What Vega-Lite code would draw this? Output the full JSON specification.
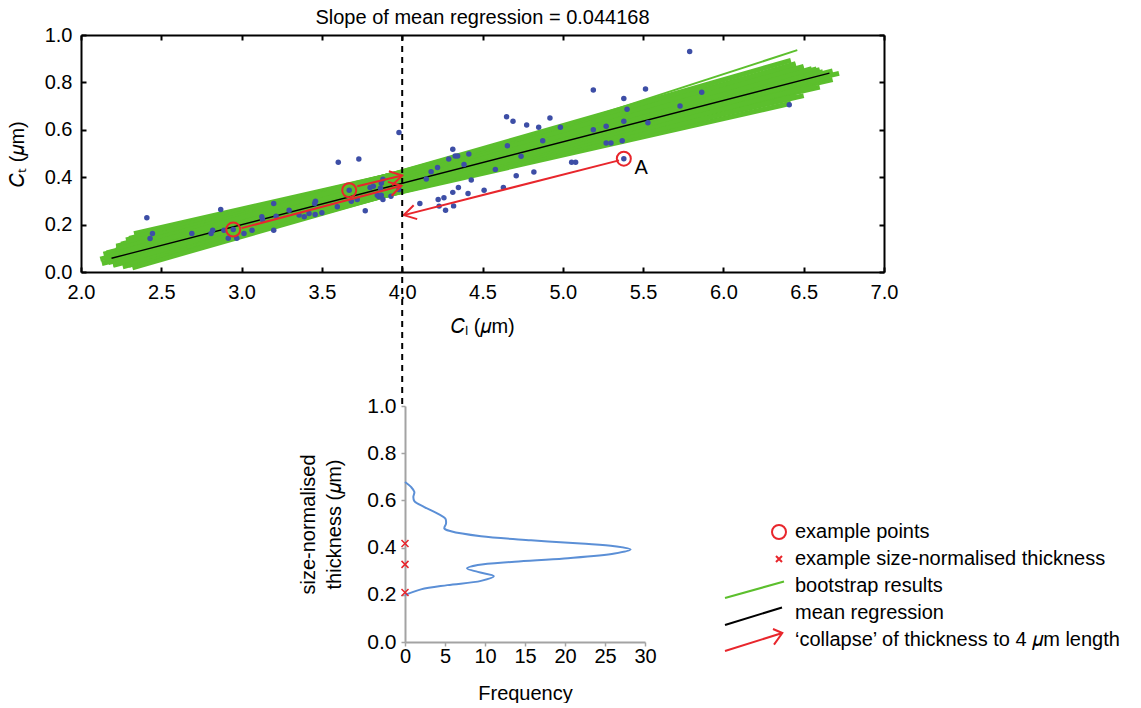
{
  "$schema": "https://vega.github.io/schema/vega-lite/v6.json",
  "padding": {"left": 7, "top": 8, "right": 0, "bottom": 0},
  "config": {
    "font": "Liberation Sans",
    "view": {"stroke": null},
    "axis": {"labelFontSize": 20, "titleFontSize": 20, "labelColor": "#000", "titleColor": "#000", "titleFontWeight": "normal", "grid": false, "labelFlush": false, "labelOverlap": false, "labelFont": "Liberation Sans", "titleFont": "Liberation Sans"},
    "title": {"fontSize": 20, "fontWeight": "normal", "color": "#000", "font": "Liberation Sans"},
    "legend": {"labelFontSize": 20, "labelColor": "#000", "labelFont": "Liberation Sans"}
  },
  "datasets": {
    "boot": [
      {"xs": 2.2, "ys": 0.062, "xe": 6.42, "ye": 0.712},
      {"xs": 2.18, "ys": 0.079, "xe": 6.5, "ye": 0.744},
      {"xs": 2.22, "ys": 0.105, "xe": 6.6, "ye": 0.780},
      {"xs": 2.28, "ys": 0.135, "xe": 6.68, "ye": 0.812},
      {"xs": 2.33, "ys": 0.162, "xe": 6.72, "ye": 0.838},
      {"xs": 2.17, "ys": 0.040, "xe": 6.45, "ye": 0.742},
      {"xs": 2.15, "ys": 0.057, "xe": 6.58, "ye": 0.784},
      {"xs": 2.14, "ys": 0.075, "xe": 6.66, "ye": 0.817},
      {"xs": 2.22, "ys": 0.109, "xe": 6.62, "ye": 0.830},
      {"xs": 2.3, "ys": 0.142, "xe": 6.6, "ye": 0.847},
      {"xs": 2.2, "ys": 0.028, "xe": 6.48, "ye": 0.773},
      {"xs": 2.13, "ys": 0.036, "xe": 6.63, "ye": 0.819},
      {"xs": 2.12, "ys": 0.054, "xe": 6.68, "ye": 0.848},
      {"xs": 2.16, "ys": 0.081, "xe": 6.6, "ye": 0.854},
      {"xs": 2.25, "ys": 0.117, "xe": 6.5, "ye": 0.856},
      {"xs": 2.26, "ys": 0.022, "xe": 6.52, "ye": 0.806},
      {"xs": 2.2, "ys": 0.031, "xe": 6.62, "ye": 0.845},
      {"xs": 2.15, "ys": 0.042, "xe": 6.58, "ye": 0.857},
      {"xs": 2.18, "ys": 0.068, "xe": 6.5, "ye": 0.862},
      {"xs": 2.22, "ys": 0.095, "xe": 6.45, "ye": 0.873},
      {"xs": 2.32, "ys": 0.018, "xe": 6.5, "ye": 0.828},
      {"xs": 2.28, "ys": 0.030, "xe": 6.55, "ye": 0.858},
      {"xs": 2.22, "ys": 0.038, "xe": 6.5, "ye": 0.868},
      {"xs": 2.2, "ys": 0.054, "xe": 6.45, "ye": 0.879},
      {"xs": 2.24, "ys": 0.082, "xe": 6.42, "ye": 0.893}
    ],
    "bootThin": [
      {"xs": 2.3, "ys": 0.022, "xe": 6.46, "ye": 0.936}
    ],
    "mean": [
      {"x": 2.19, "y": 0.058},
      {"x": 6.66, "y": 0.839}
    ],
    "pts": [
      {"x": 2.41, "y": 0.229}, {"x": 2.445, "y": 0.162}, {"x": 2.43, "y": 0.141}, {"x": 2.69, "y": 0.162},
      {"x": 2.82, "y": 0.176}, {"x": 2.81, "y": 0.162}, {"x": 2.87, "y": 0.264}, {"x": 2.89, "y": 0.176},
      {"x": 2.917, "y": 0.142}, {"x": 2.948, "y": 0.179}, {"x": 2.97, "y": 0.142}, {"x": 3.015, "y": 0.162},
      {"x": 3.065, "y": 0.176}, {"x": 3.126, "y": 0.233}, {"x": 3.13, "y": 0.222}, {"x": 3.2, "y": 0.289},
      {"x": 3.2, "y": 0.176}, {"x": 3.215, "y": 0.235}, {"x": 3.296, "y": 0.261}, {"x": 3.358, "y": 0.24},
      {"x": 3.39, "y": 0.233}, {"x": 3.42, "y": 0.247}, {"x": 3.458, "y": 0.243}, {"x": 3.46, "y": 0.299},
      {"x": 3.455, "y": 0.289}, {"x": 3.5, "y": 0.25}, {"x": 3.596, "y": 0.275}, {"x": 3.602, "y": 0.463},
      {"x": 3.73, "y": 0.477}, {"x": 3.67, "y": 0.345}, {"x": 3.683, "y": 0.299}, {"x": 3.72, "y": 0.306},
      {"x": 3.77, "y": 0.258}, {"x": 3.8, "y": 0.357}, {"x": 3.82, "y": 0.362}, {"x": 3.845, "y": 0.324},
      {"x": 3.855, "y": 0.317}, {"x": 3.87, "y": 0.324}, {"x": 3.88, "y": 0.306}, {"x": 3.88, "y": 0.391},
      {"x": 3.87, "y": 0.374}, {"x": 3.865, "y": 0.353}, {"x": 3.93, "y": 0.32}, {"x": 3.98, "y": 0.348},
      {"x": 3.98, "y": 0.589}, {"x": 4.11, "y": 0.289}, {"x": 4.15, "y": 0.392}, {"x": 4.18, "y": 0.423},
      {"x": 4.22, "y": 0.441}, {"x": 4.224, "y": 0.306}, {"x": 4.23, "y": 0.278}, {"x": 4.26, "y": 0.313},
      {"x": 4.27, "y": 0.261}, {"x": 4.29, "y": 0.477}, {"x": 4.315, "y": 0.518}, {"x": 4.315, "y": 0.336},
      {"x": 4.32, "y": 0.279}, {"x": 4.33, "y": 0.489}, {"x": 4.345, "y": 0.489}, {"x": 4.35, "y": 0.357},
      {"x": 4.385, "y": 0.454}, {"x": 4.41, "y": 0.331}, {"x": 4.415, "y": 0.498}, {"x": 4.43, "y": 0.388},
      {"x": 4.51, "y": 0.345}, {"x": 4.58, "y": 0.433}, {"x": 4.63, "y": 0.357}, {"x": 4.65, "y": 0.655},
      {"x": 4.69, "y": 0.636}, {"x": 4.655, "y": 0.533}, {"x": 4.71, "y": 0.406}, {"x": 4.74, "y": 0.488},
      {"x": 4.775, "y": 0.62}, {"x": 4.82, "y": 0.422}, {"x": 4.85, "y": 0.611}, {"x": 4.875, "y": 0.554},
      {"x": 4.92, "y": 0.65}, {"x": 4.985, "y": 0.611}, {"x": 5.055, "y": 0.463}, {"x": 5.08, "y": 0.463},
      {"x": 5.19, "y": 0.6}, {"x": 5.19, "y": 0.768}, {"x": 5.27, "y": 0.615}, {"x": 5.27, "y": 0.544},
      {"x": 5.3, "y": 0.544}, {"x": 5.37, "y": 0.554}, {"x": 5.38, "y": 0.636}, {"x": 5.38, "y": 0.732},
      {"x": 5.4, "y": 0.687}, {"x": 5.38, "y": 0.478}, {"x": 5.79, "y": 0.93}, {"x": 5.515, "y": 0.772},
      {"x": 5.53, "y": 0.63}, {"x": 5.73, "y": 0.7}, {"x": 5.865, "y": 0.758}, {"x": 6.41, "y": 0.706}
    ],
    "examples": [
      {"x": 2.948, "y": 0.179}, {"x": 3.67, "y": 0.345}, {"x": 5.38, "y": 0.478}
    ],
    "arrows": [
      {"x": 3.0, "y": 0.185, "x2": 3.995, "y2": 0.364},
      {"x": 3.72, "y": 0.362, "x2": 4.0, "y2": 0.407},
      {"x": 5.35, "y": 0.471, "x2": 4.01, "y2": 0.24}
    ],
    "hist": [
      {"freq": 0, "thick": 0.678}, {"freq": 0.75, "thick": 0.657}, {"freq": 1.17, "thick": 0.636},
      {"freq": 1.04, "thick": 0.614}, {"freq": 1.17, "thick": 0.597}, {"freq": 2.42, "thick": 0.572},
      {"freq": 4.08, "thick": 0.544}, {"freq": 5.04, "thick": 0.523}, {"freq": 5.13, "thick": 0.502},
      {"freq": 4.92, "thick": 0.481}, {"freq": 5.75, "thick": 0.469}, {"freq": 9.5, "thick": 0.448},
      {"freq": 15.75, "thick": 0.431}, {"freq": 22, "thick": 0.417}, {"freq": 26.2, "thick": 0.406},
      {"freq": 28.2, "thick": 0.392}, {"freq": 26.2, "thick": 0.375}, {"freq": 19.9, "thick": 0.354},
      {"freq": 13.7, "thick": 0.34}, {"freq": 9.1, "thick": 0.326}, {"freq": 7.75, "thick": 0.312},
      {"freq": 9.1, "thick": 0.297}, {"freq": 11.1, "thick": 0.279}, {"freq": 9.5, "thick": 0.259},
      {"freq": 5.3, "thick": 0.241}, {"freq": 2.0, "thick": 0.223}, {"freq": 0, "thick": 0.199}
    ],
    "xmarks": [
      {"freq": 0, "thick": 0.417}, {"freq": 0, "thick": 0.329}, {"freq": 0, "thick": 0.21}
    ],
    "legend": [
      {"series": "example points"},
      {"series": "example size-normalised thickness"},
      {"series": "bootstrap results"},
      {"series": "mean regression"},
      {"series": "‘collapse’ of thickness to 4 𝜇m length"}
    ]
  },
  "vconcat": [
    {
      "width": 803,
      "height": 237,
      "title": {"text": "Slope of mean regression = 0.044168", "offset": -3},
      "resolve": {"axis": {"x": "independent", "y": "independent"}},
      "layer": [
        {
          "data": {"name": "boot"},
          "mark": {"type": "rule", "stroke": "#5cbf2d", "strokeWidth": 5},
          "encoding": {
            "x": {"field": "xs", "type": "quantitative", "scale": {"domain": [2, 7], "nice": false},
              "axis": {"orient": "bottom", "values": [2, 2.5, 3, 3.5, 4, 4.5, 5, 5.5, 6, 6.5, 7], "format": ".1f", "title": "𝐶ₗ (𝜇m)", "domainColor": "#000", "domainWidth": 2, "tickColor": "#000", "tickWidth": 2, "tickSize": -5, "labelPadding": 15, "titlePadding": 14, "labelOverlap": false}},
            "y": {"field": "ys", "type": "quantitative", "scale": {"domain": [0, 1], "nice": false},
              "axis": {"orient": "left", "values": [0, 0.2, 0.4, 0.6, 0.8, 1], "format": ".1f", "title": "𝐶ₜ (𝜇m)", "domainColor": "#000", "domainWidth": 2, "tickColor": "#000", "tickWidth": 2, "tickSize": -5, "labelPadding": 14, "titlePadding": 17, "labelOverlap": false}},
            "x2": {"field": "xe"},
            "y2": {"field": "ye"}
          }
        },
        {
          "data": {"name": "bootThin"},
          "mark": {"type": "rule", "stroke": "#5cbf2d", "strokeWidth": 2},
          "encoding": {
            "x": {"field": "xs", "type": "quantitative", "scale": {"domain": [2, 7], "nice": false}, "axis": null},
            "y": {"field": "ys", "type": "quantitative", "scale": {"domain": [0, 1], "nice": false}, "axis": null},
            "x2": {"field": "xe"},
            "y2": {"field": "ye"}
          }
        },
        {
          "data": {"name": "mean"},
          "mark": {"type": "line", "stroke": "#000", "strokeWidth": 1.3},
          "encoding": {
            "x": {"field": "x", "type": "quantitative", "scale": {"domain": [2, 7], "nice": false},
              "axis": {"orient": "top", "values": [2, 2.5, 3, 3.5, 4, 4.5, 5, 5.5, 6, 6.5, 7], "labels": false, "title": null, "domainColor": "#000", "domainWidth": 2, "tickColor": "#000", "tickWidth": 2, "tickSize": -5}},
            "y": {"field": "y", "type": "quantitative", "scale": {"domain": [0, 1], "nice": false},
              "axis": {"orient": "right", "values": [0, 0.2, 0.4, 0.6, 0.8, 1], "labels": false, "title": null, "domainColor": "#000", "domainWidth": 2, "tickColor": "#000", "tickWidth": 2, "tickSize": -5}}
          }
        },
        {
          "data": {"name": "pts"},
          "mark": {"type": "point", "filled": true, "fill": "#3d4ea6", "size": 30, "opacity": 1},
          "encoding": {
            "x": {"field": "x", "type": "quantitative", "scale": {"domain": [2, 7], "nice": false}, "axis": null},
            "y": {"field": "y", "type": "quantitative", "scale": {"domain": [0, 1], "nice": false}, "axis": null}
          }
        },
        {
          "data": {"name": "arrows"},
          "mark": {"type": "rule", "stroke": "#e8262c", "strokeWidth": 2},
          "encoding": {
            "x": {"field": "x", "type": "quantitative", "scale": {"domain": [2, 7], "nice": false}, "axis": null},
            "y": {"field": "y", "type": "quantitative", "scale": {"domain": [0, 1], "nice": false}, "axis": null},
            "x2": {"field": "x2"},
            "y2": {"field": "y2"}
          }
        },
        {
          "data": {"values": [{"x": 4.0, "y": 0.407}]},
          "mark": {"type": "point", "shape": "M -1 -0.6 L 0 0 L -1 0.6", "filled": false, "stroke": "#e8262c", "strokeWidth": 2, "size": 576, "angle": -13.3, "opacity": 1},
          "encoding": {
            "x": {"field": "x", "type": "quantitative", "scale": {"domain": [2, 7], "nice": false}, "axis": null},
            "y": {"field": "y", "type": "quantitative", "scale": {"domain": [0, 1], "nice": false}, "axis": null}
          }
        },
        {
          "data": {"values": [{"x": 3.995, "y": 0.364}]},
          "mark": {"type": "point", "shape": "M -1 -0.6 L 0 0 L -1 0.6", "filled": false, "stroke": "#e8262c", "strokeWidth": 2, "size": 576, "angle": -14.9, "opacity": 1},
          "encoding": {
            "x": {"field": "x", "type": "quantitative", "scale": {"domain": [2, 7], "nice": false}, "axis": null},
            "y": {"field": "y", "type": "quantitative", "scale": {"domain": [0, 1], "nice": false}, "axis": null}
          }
        },
        {
          "data": {"values": [{"x": 4.01, "y": 0.24}]},
          "mark": {"type": "point", "shape": "M -1 -0.6 L 0 0 L -1 0.6", "filled": false, "stroke": "#e8262c", "strokeWidth": 2, "size": 576, "angle": 165.8, "opacity": 1},
          "encoding": {
            "x": {"field": "x", "type": "quantitative", "scale": {"domain": [2, 7], "nice": false}, "axis": null},
            "y": {"field": "y", "type": "quantitative", "scale": {"domain": [0, 1], "nice": false}, "axis": null}
          }
        },
        {
          "data": {"name": "examples"},
          "mark": {"type": "point", "shape": "circle", "filled": false, "stroke": "#e8262c", "strokeWidth": 2, "size": 196, "opacity": 1},
          "encoding": {
            "x": {"field": "x", "type": "quantitative", "scale": {"domain": [2, 7], "nice": false}, "axis": null},
            "y": {"field": "y", "type": "quantitative", "scale": {"domain": [0, 1], "nice": false}, "axis": null}
          }
        },
        {
          "data": {"values": [{"label": "A", "x": 5.447, "y": 0.437}]},
          "mark": {"type": "text", "align": "left", "baseline": "middle", "fontSize": 20, "color": "#000"},
          "encoding": {
            "x": {"field": "x", "type": "quantitative", "scale": {"domain": [2, 7], "nice": false}, "axis": null},
            "y": {"field": "y", "type": "quantitative", "scale": {"domain": [0, 1], "nice": false}, "axis": null},
            "text": {"field": "label"}
          }
        },
        {
          "data": {"values": [{}]},
          "mark": {"type": "rule", "stroke": "#000", "strokeWidth": 2, "strokeDash": [6, 5]},
          "encoding": {
            "x": {"datum": 4, "type": "quantitative", "scale": {"domain": [2, 7], "nice": false}, "axis": null},
            "y": {"datum": 1, "type": "quantitative", "scale": {"domain": [0, 1], "nice": false}, "axis": null},
            "y2": {"datum": -0.565}
          }
        }
      ]
    },
    {
      "hconcat": [
        {
          "width": 324,
          "height": 236,
          "data": {"values": [{}]},
          "mark": {"type": "point", "opacity": 0}
        },
        {
          "width": 240,
          "height": 236,
          "layer": [
            {
              "data": {"name": "hist"},
              "mark": {"type": "line", "stroke": "#5b8fd6", "strokeWidth": 2, "interpolate": "catmull-rom"},
              "encoding": {
                "x": {"field": "freq", "type": "quantitative", "scale": {"domain": [0, 30], "nice": false},
                  "axis": {"values": [0, 5, 10, 15, 20, 25, 30], "title": "Frequency", "labelFontSize": 20, "labelOverlap": false, "labelSeparation": 0, "domainColor": "#a3a3a3", "domainWidth": 2, "tickColor": "#a3a3a3", "tickWidth": 1.5, "tickSize": 4, "labelPadding": 0, "titlePadding": 17}},
                "y": {"field": "thick", "type": "quantitative", "scale": {"domain": [0, 1], "nice": false},
                  "axis": {"values": [0, 0.2, 0.4, 0.6, 0.8, 1], "format": ".1f", "title": ["size-normalised", "thickness (𝜇m)"], "titleLineHeight": 26, "labelFontSize": 21, "labelOverlap": false, "domainColor": "#a3a3a3", "domainWidth": 2, "tickColor": "#a3a3a3", "tickWidth": 1.5, "tickSize": 4, "labelPadding": 5, "titlePadding": 22}},
                "order": {"field": "thick", "type": "quantitative"}
              }
            },
            {
              "data": {"name": "xmarks"},
              "mark": {"type": "point", "shape": "M -1 -1 L 1 1 M -1 1 L 1 -1", "filled": false, "stroke": "#e8262c", "strokeWidth": 1.5, "size": 49, "opacity": 1},
              "encoding": {
                "x": {"field": "freq", "type": "quantitative", "scale": {"domain": [0, 30], "nice": false},
                  "axis": {"values": [0, 5, 10, 15, 20, 25, 30], "title": "Frequency", "labelFontSize": 20, "labelOverlap": false, "labelSeparation": 0, "domainColor": "#a3a3a3", "domainWidth": 2, "tickColor": "#a3a3a3", "tickWidth": 1.5, "tickSize": 4, "labelPadding": 0, "titlePadding": 17}},
                "y": {"field": "thick", "type": "quantitative", "scale": {"domain": [0, 1], "nice": false},
                  "axis": {"values": [0, 0.2, 0.4, 0.6, 0.8, 1], "format": ".1f", "title": ["size-normalised", "thickness (𝜇m)"], "titleLineHeight": 26, "labelFontSize": 21, "labelOverlap": false, "domainColor": "#a3a3a3", "domainWidth": 2, "tickColor": "#a3a3a3", "tickWidth": 1.5, "tickSize": 4, "labelPadding": 5, "titlePadding": 22}}
              }
            },
            {
              "data": {"name": "legend"},
              "mark": {"type": "point", "opacity": 0, "filled": false, "strokeWidth": 2},
              "encoding": {
                "color": {"field": "series", "type": "nominal",
                  "scale": {"domain": ["example points", "example size-normalised thickness", "bootstrap results", "mean regression", "‘collapse’ of thickness to 4 𝜇m length"], "range": ["#e8262c", "#e8262c", "#5cbf2d", "#000000", "#e8262c"]},
                  "legend": {"orient": "none", "legendX": 673, "legendY": 486, "title": null, "symbolSize": 400, "symbolStrokeWidth": 2, "symbolOpacity": 1, "labelFontSize": 20, "labelOffset": 19, "rowPadding": -7.3, "labelLimit": 0}},
                "shape": {"field": "series", "type": "nominal",
                  "scale": {"domain": ["example points", "example size-normalised thickness", "bootstrap results", "mean regression", "‘collapse’ of thickness to 4 𝜇m length"], "range": ["M 0 -1.1 M 0 1.2 M 2.1 0 A 0.7 0.7 0 1 1 0.7 0 A 0.7 0.7 0 1 1 2.1 0 Z", "M 0 -1.1 M 0 1.2 M 1.1 -0.3 L 1.7 0.3 M 1.1 0.3 L 1.7 -0.3", "M 0 -1.1 M 0 1.2 M -4 1.2 L 1.9 -0.45", "M 0 -1.1 M 0 1.2 M -4 1.2 L 1.7 -0.55", "M 0 -1.1 M 0 1.2 M -4 1.1 L 1.73 -0.7 M 0.8 -1.1 L 1.73 -0.7 L 0.9 0.47"]},
                  "legend": {"orient": "none", "legendX": 673, "legendY": 486, "title": null, "symbolSize": 400, "symbolStrokeWidth": 2, "symbolOpacity": 1, "labelFontSize": 20, "labelOffset": 19, "rowPadding": -7.3, "labelLimit": 0}}
              }
            }
          ]
        }
      ],
      "spacing": 0,
      "bounds": "flush"
    }
  ],
  "spacing": 134,
  "bounds": "flush"
}
